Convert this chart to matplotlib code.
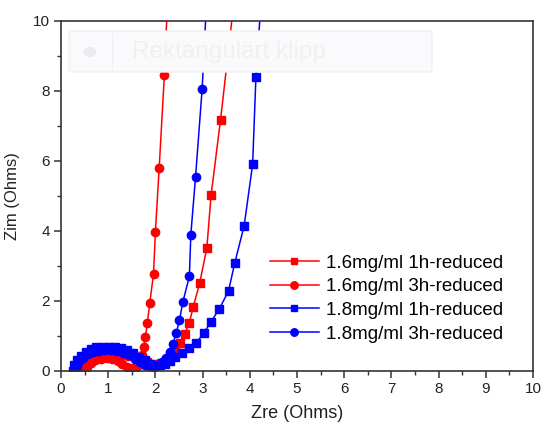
import numpy as np
import matplotlib.pyplot as plt
from matplotlib.patches import FancyBboxPatch, Circle
from matplotlib.ticker import MultipleLocator

plt.rcParams['font.family'] = ['Liberation Sans', 'DejaVu Sans']

# Nyquist data, Zre / Zim in Ohms
zre_16_1h = [0.45, 0.50, 0.58, 0.68, 0.80, 0.93, 1.07, 1.20, 1.34, 1.47, 1.60, 1.72,
             1.83, 1.93, 2.02, 2.12, 2.22, 2.32, 2.42, 2.53, 2.62, 2.72, 2.80, 2.94,
             3.09, 3.18, 3.38, 3.66]
zim_16_1h = [0.00, 0.12, 0.23, 0.32, 0.39, 0.43, 0.45, 0.46, 0.45, 0.42, 0.37, 0.31,
             0.25, 0.20, 0.17, 0.22, 0.30, 0.40, 0.54, 0.78, 1.05, 1.37, 1.81, 2.51,
             3.51, 5.02, 7.17, 10.5]

zre_16_3h = [0.50, 0.55, 0.63, 0.73, 0.85, 0.97, 1.09, 1.20, 1.30, 1.40, 1.50, 1.58,
             1.64, 1.68, 1.72, 1.75, 1.79, 1.83, 1.88, 1.96, 2.00, 2.08, 2.19, 2.27]
zim_16_3h = [0.00, 0.11, 0.21, 0.29, 0.34, 0.35, 0.33, 0.27, 0.19, 0.11, 0.06, 0.08,
             0.16, 0.28, 0.45, 0.68, 0.97, 1.37, 1.92, 2.76, 3.97, 5.79, 8.45, 11.0]

zre_18_1h = [0.25, 0.28, 0.34, 0.42, 0.52, 0.63, 0.75, 0.88, 1.01, 1.14, 1.27, 1.40,
             1.53, 1.65, 1.77, 1.88, 1.98, 2.10, 2.20, 2.30, 2.42, 2.56, 2.72, 2.87,
             3.02, 3.18, 3.35, 3.55, 3.68, 3.88, 4.06, 4.13, 4.26]
zim_18_1h = [0.00, 0.15, 0.29, 0.42, 0.53, 0.61, 0.66, 0.68, 0.68, 0.67, 0.64, 0.58,
             0.50, 0.40, 0.29, 0.19, 0.13, 0.15, 0.20, 0.28, 0.38, 0.49, 0.64, 0.80,
             1.06, 1.40, 1.75, 2.28, 3.07, 4.14, 5.90, 8.41, 11.0]

zre_18_3h = [0.30, 0.33, 0.39, 0.47, 0.57, 0.68, 0.80, 0.93, 1.06, 1.19, 1.32, 1.45,
             1.57, 1.68, 1.78, 1.87, 1.96, 2.05, 2.14, 2.22, 2.30, 2.37, 2.44, 2.51,
             2.58, 2.72, 2.75, 2.85, 2.99, 3.10]
zim_18_3h = [0.00, 0.13, 0.26, 0.37, 0.46, 0.52, 0.56, 0.58, 0.58, 0.56, 0.51, 0.43,
             0.34, 0.25, 0.17, 0.12, 0.11, 0.16, 0.24, 0.36, 0.52, 0.76, 1.06, 1.44,
             1.95, 2.70, 3.88, 5.53, 8.05, 11.0]

labels = ['1.6mg/ml 1h-reduced', '1.6mg/ml 3h-reduced',
          '1.8mg/ml 1h-reduced', '1.8mg/ml 3h-reduced']

W, H = 544, 426
fig = plt.figure(figsize=(W / 100, H / 100), dpi=100)
ax = fig.add_axes([61 / W, 1 - 370.5 / H, 472 / W, 349.5 / H])


def px(x, y):
    return x / W, 1 - y / H


# faint snipping-tool overlay behind the data
x0, y0 = px(69, 72)
x1, y1 = px(432, 31)
fig.patches.append(FancyBboxPatch((x0, y0), x1 - x0, y1 - y0,
                                  boxstyle='round,pad=0,rounding_size=0.006',
                                  transform=fig.transFigure, fc='#fafafc',
                                  ec='#f0f0f4', lw=1, zorder=0.5))
fig.lines.append(plt.Line2D([112 / W, 112 / W], [px(0, 70)[1], px(0, 33)[1]],
                            transform=fig.transFigure, color='#f0f0f4', lw=1, zorder=0.6))
fig.patches.append(Circle(px(90, 52), 0.012, transform=fig.transFigure,
                          fc='#ebebee', ec='none', zorder=0.6))
fig.text(*px(132, 52), 'Rektangulärt klipp', fontsize=17.5, color='#f3eff0',
         va='center', ha='left', zorder=0.6)
ax.set_facecolor('none')
fig.patch.set_facecolor('white')

ax.plot(zre_16_1h, zim_16_1h, '-s', color='#ff0000', ms=5.5, lw=1.1, label=labels[0])
ax.plot(zre_16_3h, zim_16_3h, '-o', color='#ff0000', ms=6, lw=1.1, label=labels[1])
ax.plot(zre_18_1h, zim_18_1h, '-s', color='#0000ff', ms=5.5, lw=1.1, label=labels[2])
ax.plot(zre_18_3h, zim_18_3h, '-o', color='#0000ff', ms=6, lw=1.1, label=labels[3])

ax.set_xlim(0, 10)
ax.set_ylim(0, 10)
ax.xaxis.set_major_locator(MultipleLocator(1))
ax.xaxis.set_minor_locator(MultipleLocator(0.5))
ax.yaxis.set_major_locator(MultipleLocator(2))
ax.yaxis.set_minor_locator(MultipleLocator(1))
ax.tick_params(which='major', direction='out', length=5, width=1.1, color='#333333',
               labelsize=11, labelcolor='#222222', pad=3)
ax.tick_params(which='minor', direction='out', length=3, width=1, color='#333333')
for s in ax.spines.values():
    s.set_linewidth(1.2)
    s.set_color('#333333')

ax.set_xlabel('Zre (Ohms)', fontsize=13, color='#222222', labelpad=7)
ax.set_ylabel('Zim (Ohms)', fontsize=12, color='#222222', labelpad=9)

ax.legend(loc='upper left', bbox_to_anchor=(0.443, 0.332), frameon=False,
          fontsize=13.5, handlelength=2.6, handletextpad=0.4, labelspacing=0.35,
          borderaxespad=0, borderpad=0, markerscale=0.9)

fig.savefig('out.png', dpi=100)
